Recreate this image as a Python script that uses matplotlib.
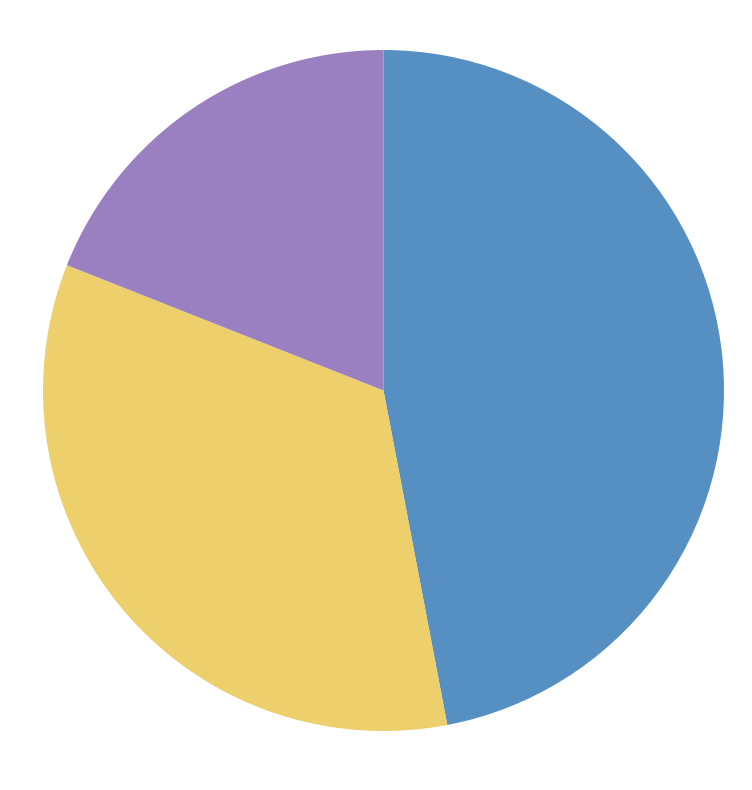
import matplotlib
matplotlib.use("Agg")
import matplotlib.pyplot as plt

categories = ["A", "B", "C"]
values = [47, 34, 19]
colors = ["#568fc2", "#edcf6b", "#9b80c1"]

W, H = 752, 790
fig = plt.figure(figsize=(W / 100, H / 100), dpi=100)
cx, cy, r = 383.5, 390.5, 340.5
ax = fig.add_axes([(cx - r) / W, (H - cy - r) / H, 2 * r / W, 2 * r / H])
ax.pie(values, colors=colors, startangle=90, counterclock=False, radius=1,
       wedgeprops=dict(linewidth=0, antialiased=True))
ax.set_xlim(-1, 1)
ax.set_ylim(-1, 1)
ax.axis("off")
fig.savefig("out.png", dpi=100, facecolor="white")
